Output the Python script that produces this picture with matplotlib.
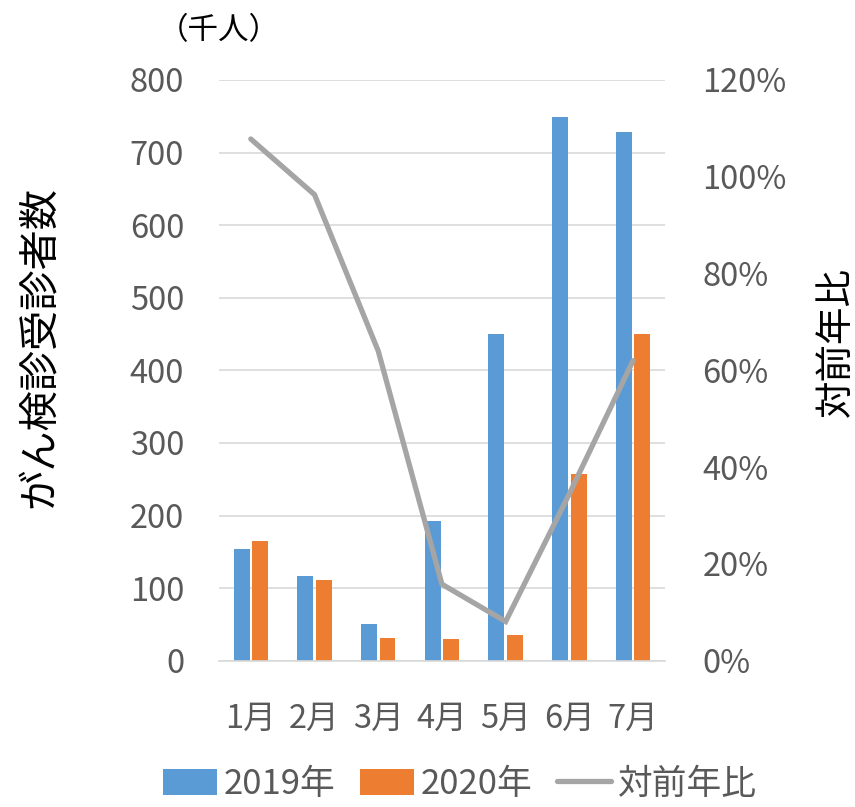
import matplotlib
matplotlib.use("Agg")
import matplotlib.pyplot as plt
from matplotlib.patches import Patch
from matplotlib.lines import Line2D
import numpy as np

plt.rcParams['font.family'] = ['Noto Sans CJK JP', 'DejaVu Sans']

months = ["1月", "2月", "3月", "4月", "5月", "6月", "7月"]
screened_2019 = [154, 116, 51, 193, 450, 749, 729]
screened_2020 = [165, 111, 31, 30, 36, 257, 450]
yoy_ratio = [107.8, 96.3, 64.0, 15.8, 8.1, 34.5, 62.0]
left_ticks = [0, 100, 200, 300, 400, 500, 600, 700, 800]
right_ticks = [0, 20, 40, 60, 80, 100, 120]

BLUE = "#5B9BD5"
ORANGE = "#ED7D31"
GRAY = "#A5A5A5"
TICK = "#595959"
GRID = "#D9D9D9"

W, H = 855, 807
fig = plt.figure(figsize=(W / 100, H / 100), dpi=100)
ax = fig.add_axes([0.2561, 0.1813, 0.5216, 0.7196])

x = np.arange(len(months))
w = 0.25
off = 0.145
ax.bar(x - off, screened_2019, width=w, color=BLUE, zorder=2)
ax.bar(x + off, screened_2020, width=w, color=ORANGE, zorder=2)

ax.set_xlim(-0.5, len(months) - 0.5)
ax.set_ylim(0, 800)
ax.set_yticks(left_ticks)
ax.yaxis.grid(True, color=GRID, linewidth=1.2, zorder=0)
ax.set_axisbelow(True)
for s in ["top", "right", "left"]:
    ax.spines[s].set_visible(False)
ax.spines["bottom"].set_color(GRID)
ax.spines["bottom"].set_linewidth(1.2)
ax.set_xticks(x)
ax.set_xticklabels(months)
ax.tick_params(axis="both", length=0, labelsize=23.5, labelcolor=TICK)
ax.tick_params(axis="y", pad=25)
ax.tick_params(axis="x", pad=30)

ax2 = ax.twinx()
ax2.plot(x, yoy_ratio, color=GRAY, linewidth=3.8, solid_capstyle="round",
         solid_joinstyle="miter", zorder=3)
ax2.set_ylim(0, 120)
ax2.set_yticks(right_ticks)
ax2.set_yticklabels([f"{t}%" for t in right_ticks])
for s in ["top", "right", "left", "bottom"]:
    ax2.spines[s].set_visible(False)
ax2.tick_params(axis="y", length=0, labelsize=23.5, labelcolor=TICK, pad=27)

# axis titles and unit
fig.text(40 / W, 1 - 347 / H, "がん検診受診者数", fontsize=29, rotation=90,
         ha="center", va="center")
fig.text(836 / W, 1 - 342 / H, "対前年比", fontsize=27, rotation=90,
         ha="center", va="center")
fig.text(219 / W, 1 - 31 / H, "（千人）", fontsize=22, ha="center", va="center")

handles = [Patch(facecolor=BLUE), Patch(facecolor=ORANGE),
           Line2D([0], [0], color=GRAY, linewidth=3.8, solid_capstyle="round")]
fig.legend(handles, ["2019年", "2020年", "対前年比"], loc="center",
           bbox_to_anchor=(460 / W, 0.028), ncol=3, frameon=False, fontsize=25,
           labelcolor=TICK, handlelength=1.55, handleheight=0.8,
           handletextpad=0.2, columnspacing=0.7, borderpad=0.0)

fig.savefig("out.png", dpi=100)
